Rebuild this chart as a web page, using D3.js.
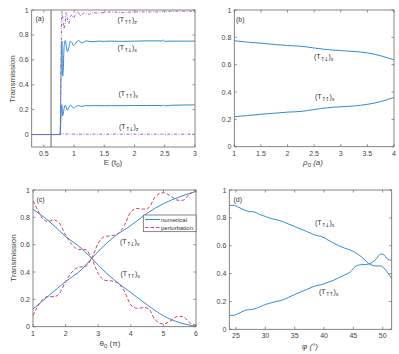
<!DOCTYPE html>
<meta charset="utf-8">
<style>
body { margin: 0; background: #fff; }
svg { display: block; font-family: "Liberation Sans", Arial, "DejaVu Sans", sans-serif; }
.frame { fill: none; stroke: #666; stroke-width: 0.8; }
.tick { stroke: #666; stroke-width: 0.7; }
.tickLabel { font-size: 7px; fill: #444; }
.axLabel { font-size: 8px; fill: #444; }
.note { font-size: 7px; fill: #333; }
.blue { fill: none; stroke: #2f8bd0; stroke-width: 1; }
.red { fill: none; stroke: #cc4060; stroke-width: 1; stroke-dasharray: 3.5 2; }
.purple { fill: none; stroke: #a060bb; stroke-width: 1; stroke-dasharray: 3 1.5 0.8 1.5; }
</style>
<svg width="399" height="354"></svg>
<script src="https://d3js.org/d3.v7.min.js"></script>
<script>

// ---- panel (a): transmission vs energy
var energy = [0.3, 0.77, 0.785, 0.80, 0.81, 0.82, 0.835, 0.855, 0.87, 0.89, 0.915, 0.94, 0.965, 0.99, 1.03, 1.07, 1.1, 1.13, 1.17, 1.2, 1.25, 1.3, 1.4, 1.5, 1.6, 1.8, 2.0, 2.2, 2.4, 2.46, 2.48, 2.5, 2.6, 2.8, 3.0];
var aUpDownX = [0, 0, 0.5, 0.75, 0.47, 0.5, 0.7, 0.755, 0.72, 0.665, 0.7, 0.75, 0.74, 0.715, 0.735, 0.755, 0.745, 0.735, 0.745, 0.752, 0.748, 0.745, 0.75, 0.748, 0.75, 0.748, 0.75, 0.752, 0.752, 0.752, 0.76, 0.748, 0.75, 0.75, 0.75];
var aUpUpX = [0, 0, 0.15, 0.24, 0.15, 0.16, 0.21, 0.235, 0.22, 0.195, 0.215, 0.235, 0.228, 0.212, 0.225, 0.232, 0.23, 0.226, 0.23, 0.232, 0.231, 0.232, 0.232, 0.231, 0.232, 0.232, 0.233, 0.233, 0.233, 0.232, 0.236, 0.23, 0.235, 0.237, 0.238];
var aUpUpZ = [0, 0, 0.6, 0.99, 0.96, 0.9, 0.85, 0.9, 0.98, 0.93, 0.89, 0.95, 0.96, 0.935, 0.97, 0.98, 0.955, 0.96, 0.98, 0.975, 0.965, 0.98, 0.975, 0.98, 0.985, 0.98, 0.985, 0.985, 0.985, 0.985, 0.99, 0.985, 0.99, 0.99, 0.99];
var aUpDownZ = [0, 0, 0.004, 0.006, 0.003, 0.004, 0.005, 0.003, 0.004, 0.005, 0.003, 0.004, 0.003, 0.004, 0.003, 0.004, 0.003, 0.003, 0.004, 0.003, 0.003, 0.004, 0.003, 0.003, 0.003, 0.003, 0.003, 0.003, 0.003, 0.003, 0.003, 0.003, 0.003, 0.003, 0.003];
var edgeE = 0.62;
var aXTicks = [0.5, 1, 1.5, 2, 2.5, 3];

// ---- panel (b): transmission vs rho0
var rho = [1, 1.25, 1.5, 1.75, 2, 2.25, 2.5, 2.75, 3, 3.25, 3.5, 3.75, 4];
var bUpDown = [0.775, 0.765, 0.757, 0.748, 0.74, 0.735, 0.722, 0.71, 0.703, 0.697, 0.686, 0.665, 0.635];
var bUpUp = [0.22, 0.228, 0.237, 0.245, 0.253, 0.258, 0.272, 0.285, 0.292, 0.298, 0.31, 0.33, 0.36];
var bXTicks = [1, 1.5, 2, 2.5, 3, 3.5, 4];

// ---- panel (c): transmission vs theta0
var thetaNum = [1, 1.5, 2, 2.5, 2.8, 3, 3.5, 4, 4.5, 5, 5.5, 6];
var cNumUpDown = [0.86, 0.77, 0.66, 0.57, 0.5, 0.45, 0.34, 0.25, 0.16, 0.08, 0.03, 0.003];
var cNumUpUp = [0.13, 0.23, 0.33, 0.42, 0.5, 0.55, 0.66, 0.74, 0.83, 0.9, 0.95, 0.99];
var thetaPert = [1, 1.15, 1.3, 1.45, 1.65, 1.8, 2.0, 2.2, 2.4, 2.6, 2.8, 3.0, 3.2, 3.4, 3.6, 3.8, 4.0, 4.2, 4.4, 4.55, 4.75, 5.0, 5.2, 5.45, 5.6, 5.8, 6.0];
var cPertUpDown = [0.92, 0.85, 0.79, 0.77, 0.78, 0.76, 0.67, 0.6, 0.565, 0.565, 0.5, 0.39, 0.34, 0.335, 0.32, 0.26, 0.16, 0.135, 0.14, 0.13, 0.05, 0.02, 0.04, 0.075, 0.075, 0.03, 0.01];
var cPertUpUp = [0.08, 0.15, 0.2, 0.22, 0.22, 0.24, 0.33, 0.4, 0.435, 0.44, 0.5, 0.61, 0.66, 0.665, 0.68, 0.74, 0.84, 0.865, 0.86, 0.87, 0.95, 0.98, 0.96, 0.925, 0.925, 0.97, 0.99];
var cXTicks = [1, 2, 3, 4, 5, 6];

// ---- panel (d): transmission vs phi
var phi = [23.86, 24.5, 25.5, 26.5, 27.3, 28, 29, 30, 31, 31.8, 32.5, 34, 35, 36, 37, 38, 38.8, 39.5, 40.5, 41.5, 42.5, 43.5, 44.5, 45.3, 46, 46.8, 47.5, 48.2, 49, 49.6, 50.2, 50.8, 51.53];
var dUpDown = [0.89, 0.89, 0.875, 0.855, 0.845, 0.843, 0.825, 0.81, 0.795, 0.788, 0.78, 0.755, 0.738, 0.72, 0.703, 0.685, 0.672, 0.667, 0.645, 0.622, 0.6, 0.583, 0.568, 0.552, 0.532, 0.505, 0.475, 0.46, 0.455, 0.455, 0.44, 0.41, 0.365];
var dUpUp = [0.10, 0.10, 0.115, 0.135, 0.142, 0.145, 0.16, 0.178, 0.19, 0.2, 0.205, 0.23, 0.25, 0.268, 0.285, 0.303, 0.315, 0.32, 0.335, 0.35, 0.37, 0.39, 0.413, 0.45, 0.462, 0.465, 0.467, 0.48, 0.51, 0.54, 0.535, 0.505, 0.495];
var dXTicks = [25, 30, 35, 40, 45, 50];

var yTicks = [0, 0.2, 0.4, 0.6, 0.8, 1];

var svg = d3.select("svg");
var clipId = 0;

function makePanel(box, xDom, yDom, xTicks) {
  var x = d3.scaleLinear().domain(xDom).range([box.l, box.r]),
      y = d3.scaleLinear().domain(yDom).range([box.b, box.t]),
      g = svg.append("g"),
      id = "clip" + (clipId++);

  g.append("clipPath").attr("id", id)
    .append("rect")
    .attr("x", box.l).attr("y", box.t)
    .attr("width", box.r - box.l).attr("height", box.b - box.t);

  var tl = 2.5;
  xTicks.forEach(v => {
    g.append("line").attr("class", "tick")
      .attr("x1", x(v)).attr("x2", x(v)).attr("y1", box.b).attr("y2", box.b - tl);
    g.append("line").attr("class", "tick")
      .attr("x1", x(v)).attr("x2", x(v)).attr("y1", box.t).attr("y2", box.t + tl);
    g.append("text").attr("class", "tickLabel")
      .attr("x", x(v)).attr("y", box.b + 9)
      .attr("text-anchor", "middle").text(v);
  });
  yTicks.forEach(v => {
    g.append("line").attr("class", "tick")
      .attr("x1", box.l).attr("x2", box.l + tl).attr("y1", y(v)).attr("y2", y(v));
    g.append("line").attr("class", "tick")
      .attr("x1", box.r).attr("x2", box.r - tl).attr("y1", y(v)).attr("y2", y(v));
    g.append("text").attr("class", "tickLabel")
      .attr("x", box.l - 3).attr("y", y(v) + 2.5)
      .attr("text-anchor", "end").text(v);
  });

  var plot = g.append("g").attr("clip-path", "url(#" + id + ")");
  g.append("rect").attr("class", "frame")
    .attr("x", box.l).attr("y", box.t)
    .attr("width", box.r - box.l).attr("height", box.b - box.t);

  return { g, plot, x, y, box };
}

function drawSeries(p, xs, ys, cls) {
  var line = d3.line()
    .x((d, i) => p.x(xs[i]))
    .y(d => p.y(d))
    .curve(d3.curveMonotoneX);
  return p.plot.append("path").attr("class", cls).attr("d", line(ys));
}

function tLabel(g, px, py, spins, comp) {
  var t = g.append("text").attr("class", "note").attr("x", px).attr("y", py);
  t.append("tspan").text("(T");
  t.append("tspan").attr("dy", 2).attr("font-size", 5.5)
    .attr("font-family", "DejaVu Sans").attr("letter-spacing", -1.2).text(spins);
  t.append("tspan").attr("dy", -2).attr("dx", 1).text(")");
  t.append("tspan").attr("dy", 2).attr("font-size", 5.5).text(comp);
}

function panelTag(g, px, py, s) {
  g.append("text").attr("class", "note").attr("x", px).attr("y", py).text(s);
}

function xLabel(g, cx, cy, main, sub, rest, italic) {
  var t = g.append("text").attr("class", "axLabel")
    .attr("x", cx).attr("y", cy).attr("text-anchor", "middle");
  t.append("tspan").attr("font-style", italic ? "italic" : null).text(main);
  t.append("tspan").attr("dy", 2).attr("font-size", 6).text(sub);
  t.append("tspan").attr("dy", -2).attr("font-style", italic ? "italic" : null).text(rest);
}

function yLabel(g, cx, cy, s) {
  g.append("text").attr("class", "axLabel")
    .attr("transform", "translate(" + cx + "," + cy + ") rotate(-90)")
    .attr("text-anchor", "middle").text(s);
}

// panel (a)
var pa = makePanel({ l: 31.7, r: 195, t: 10, b: 147 }, [0.3, 3], [-0.1, 1], aXTicks);
pa.plot.append("line")
  .attr("x1", pa.x(edgeE)).attr("x2", pa.x(edgeE))
  .attr("y1", pa.box.t).attr("y2", pa.box.b)
  .attr("stroke", "#555").attr("stroke-width", 0.9);
drawSeries(pa, energy, aUpDownZ, "purple");
drawSeries(pa, energy, aUpUpX, "blue");
drawSeries(pa, energy, aUpDownX, "blue");
drawSeries(pa, energy, aUpUpZ, "purple");
panelTag(pa.g, 35.5, 20.5, "(a)");
tLabel(pa.g, 117.5, 22, "\u2191\u2191", "z");
tLabel(pa.g, 117.5, 50, "\u2191\u2193", "x");
tLabel(pa.g, 118.5, 96, "\u2191\u2191", "x");
tLabel(pa.g, 119, 129, "\u2191\u2193", "z");
xLabel(pa.g, 113, 165, "E (t", "0", ")", false);
yLabel(pa.g, 15, 79, "Transmission");

// panel (b)
var pb = makePanel({ l: 234.3, r: 394, t: 10, b: 146.7 }, [1, 4], [0, 1], bXTicks);
drawSeries(pb, rho, bUpDown, "blue");
drawSeries(pb, rho, bUpUp, "blue");
panelTag(pb.g, 236, 22, "(b)");
tLabel(pb.g, 314, 59, "\u2191\u2193", "x");
tLabel(pb.g, 315, 99, "\u2191\u2191", "x");
xLabel(pb.g, 313, 165, "\u03c1", "0", " (a)", true);

// panel (c)
var pc = makePanel({ l: 33, r: 196, t: 190, b: 326.7 }, [1, 6], [0, 1], cXTicks);
drawSeries(pc, thetaNum, cNumUpDown, "blue");
drawSeries(pc, thetaNum, cNumUpUp, "blue");
drawSeries(pc, thetaPert, cPertUpDown, "red");
drawSeries(pc, thetaPert, cPertUpUp, "red");
panelTag(pc.g, 36.5, 201.5, "(c)");
tLabel(pc.g, 120, 244, "\u2191\u2193", "x");
tLabel(pc.g, 120.5, 276, "\u2191\u2191", "x");
xLabel(pc.g, 110, 346, "\u03b8", "0", " (\u03c0)", false);
yLabel(pc.g, 16, 258, "Transmission");

// legend for (c)
var leg = pc.g.append("g");
leg.append("rect").attr("x", 143.3).attr("y", 215).attr("width", 52.7).attr("height", 16.7)
  .attr("fill", "#fff").attr("stroke", "#555").attr("stroke-width", 0.7);
[["numerical", "blue"], ["perturbation", "red"]].forEach((e, i) => {
  var yy = 219.5 + i * 8;
  leg.append("line").attr("class", e[1])
    .attr("x1", 145).attr("x2", 160).attr("y1", yy).attr("y2", yy);
  leg.append("text").attr("x", 161).attr("y", yy + 2)
    .attr("font-size", 6).attr("fill", "#333").text(e[0]);
});

// panel (d)
var pd = makePanel({ l: 229.3, r: 391.7, t: 190, b: 329.3 }, [23.86, 51.53], [0, 1], dXTicks);
drawSeries(pd, phi, dUpDown, "blue");
drawSeries(pd, phi, dUpUp, "blue");
panelTag(pd.g, 233.5, 201.5, "(d)");
tLabel(pd.g, 315, 224.5, "\u2191\u2193", "x");
tLabel(pd.g, 319, 294, "\u2191\u2191", "x");
xLabel(pd.g, 310, 349, "\u03c6 (\u00b0)", "", "", true);

</script>
